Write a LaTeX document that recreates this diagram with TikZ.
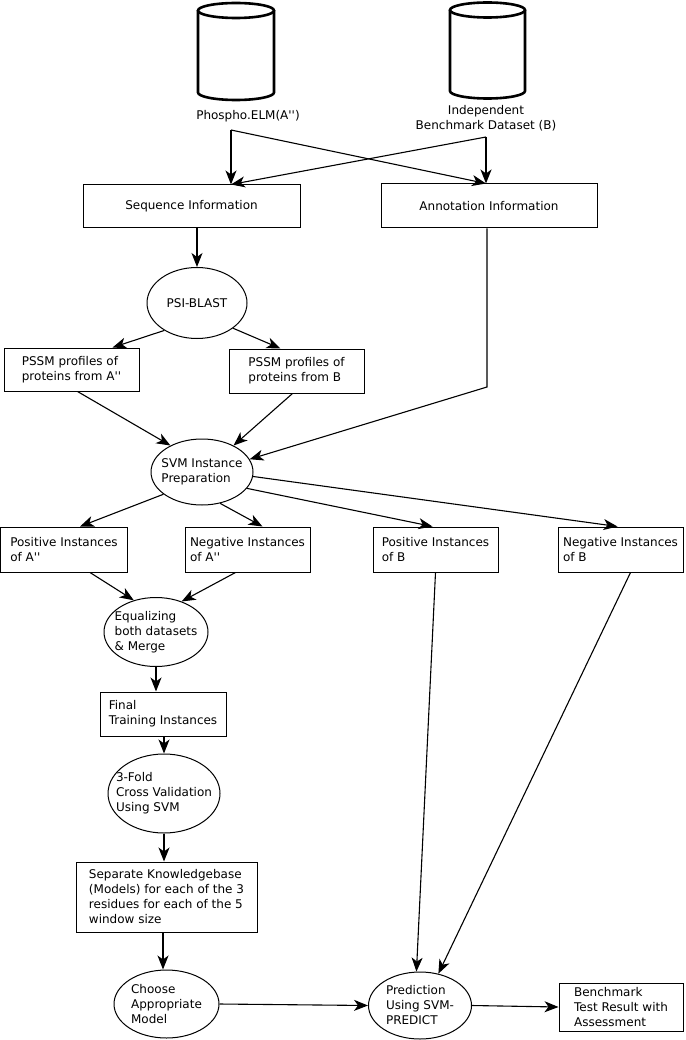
\documentclass[tikz,border=0pt]{standalone}
\usepackage{fontspec}
\setmainfont{DejaVu Sans}[Ligatures=TeXOff]
\usetikzlibrary{shapes.geometric,arrows.meta}

\begin{document}
\begin{tikzpicture}[x=1pt, y=-1pt, font=\fontsize{12}{15}\selectfont,
    box/.style={draw, rectangle, align=left, inner sep=0pt, line width=1pt},
    oval/.style={draw, ellipse, align=left, inner sep=-14pt, line width=1pt},
    dbline/.style={line width=2.6pt},
    arr/.style={-{Stealth[length=14pt,width=11pt,inset=4pt]}, line width=1.1pt}]
  \useasboundingbox (0,0) rectangle (685,1040);
  % Databases
  \draw[dbline] (198,10.5) -- (198,92.5) arc[start angle=180, end angle=360, x radius=38pt, y radius=7.5pt] -- (274,10.5);
  \draw[dbline] (236,10.5) ellipse[x radius=38pt, y radius=7.5pt];
  \draw[dbline] (450,10) -- (450,91) arc[start angle=180, end angle=360, x radius=37.5pt, y radius=7.5pt] -- (525,10);
  \draw[dbline] (487.5,10) ellipse[x radius=37.5pt, y radius=7.5pt];
  \node (lblA) at (248,116) {Phospho.ELM(A'')};
  \node[align=center] (lblB) at (486,118) {Independent\\Benchmark Dataset (B)};
  \coordinate (a1) at (231,130);
  \coordinate (b1) at (486,137);
  % Boxes and ovals
  \node[box, minimum width=217pt, minimum height=43pt] (seq) at (191.5,206.5) {Sequence Information};
  \node[box, minimum width=216pt, minimum height=44pt] (ann) at (489,206) {Annotation Information};
  \node[oval, minimum width=100pt, minimum height=71pt] (psi) at (197,303) {PSI-BLAST};
  \node[box, minimum width=135pt, minimum height=43pt] (pssmA) at (71.5,369.5) {PSSM profiles of\\proteins from A''};
  \node[box, minimum width=135pt, minimum height=44pt] (pssmB) at (296.5,371) {PSSM profiles of\\proteins from B};
  \coordinate (bend) at (487,387);
  \node[oval, minimum width=102pt, minimum height=66pt] (svm) at (202,472) {SVM Instance\\Preparation};
  \node[box, minimum width=127pt, minimum height=45pt] (posA) at (64,549.5) {Positive Instances\\of A''};
  \node[box, minimum width=125pt, minimum height=45pt] (negA) at (247.5,549.5) {Negative Instances\\of A''};
  \node[box, minimum width=125pt, minimum height=45pt] (posB) at (435.5,549.5) {Positive Instances\\of B};
  \node[box, minimum width=125pt, minimum height=45pt] (negB) at (620.5,549.5) {Negative Instances\\of B};
  \node[oval, minimum width=104pt, minimum height=69pt] (eq) at (156,632) {Equalizing\\both datasets\\\& Merge};
  \node[box, minimum width=126pt, minimum height=44pt] (fin) at (163,714) {Final\\Training Instances};
  \node[oval, minimum width=112pt, minimum height=79pt] (cv) at (164,793.5) {3-Fold\\Cross Validation\\Using SVM};
  \node[box, minimum width=181pt, minimum height=70pt] (sep) at (166.5,897) {Separate Knowledgebase\\(Models) for each of the 3\\residues for each of the 5\\window size};
  \node[oval, minimum width=105pt, minimum height=68pt] (cho) at (166.5,1004) {Choose\\Appropriate\\Model};
  \node[oval, minimum width=103pt, minimum height=67pt] (pred) at (420,1005.5) {Prediction\\Using SVM-\\PREDICT};
  \node[box, minimum width=124pt, minimum height=48pt] (bench) at (621,1007) {Benchmark\\Test Result with\\Assessment};
  % Sources
  \draw[arr] (a1) -- (a1 |- seq.north);
  \draw[arr] (a1) -- (b1 |- ann.north);
  \draw[arr, line width=1.8pt] (b1) -- (b1 |- ann.north);
  \draw[arr] (b1) -- (a1 |- seq.north);
  % Profiles
  \draw[arr] (seq.south -| psi.north) -- (psi.north);
  \draw[arr] (psi.-140) -- ([xshift=41pt]pssmA.north);
  \draw[arr] (psi.-35) -- ([xshift=-16pt]pssmB.north);
  \draw[arr] ([xshift=6pt]pssmA.south) -- (svm.140);
  \draw[arr] ([xshift=-4pt]pssmB.south) -- (svm.40);
  \draw[arr] (ann.south -| bend) -- (bend) -- (svm.15);
  % Instances
  \draw[arr] (svm.-150) -- ([xshift=16pt]posA.north);
  \draw[arr] (svm.-60) -- ([xshift=15pt]negA.north);
  \draw[arr] (svm.-20) -- ([xshift=-3pt]posB.north);
  \draw[arr] (svm.-5) -- ([xshift=-3pt]negB.north);
  \draw[arr] ([xshift=26pt]posA.south) -- (eq.125);
  \draw[arr] ([xshift=-12pt]negA.south) -- (eq.50);
  % Training
  \draw[arr] (eq.south) -- (eq.south |- fin.north);
  \draw[arr] (fin.south -| cv.north) -- (cv.north);
  \draw[arr] (cv.south) -- (cv.south |- sep.north);
  \draw[arr] (sep.south -| 163,0) -- (cho.north -| 163,0);
  % Prediction
  \draw[arr] (cho.east) -- (pred.west);
  \draw[arr] (pred.east) -- (bench.west);
  \draw[arr] (posB.south) -- (pred.96);
  \draw[arr] ([xshift=10pt]negB.south) -- (pred.60);
\end{tikzpicture}
\end{document}
